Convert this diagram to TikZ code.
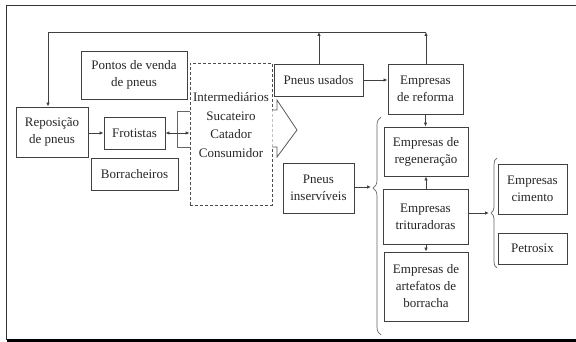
\documentclass[tikz,border=0pt]{standalone}
\usepackage{fontspec}
\setmainfont{Liberation Serif}
\usetikzlibrary{arrows.meta,decorations.pathreplacing}
\begin{document}
\begin{tikzpicture}[x=1pt,y=-1pt,
  box/.style={draw=black!75,line width=0.9pt,align=center,inner sep=0pt,
    font=\fontsize{13}{17}\selectfont,text=black!85},
  arr/.style={draw=black!75,line width=0.8pt,-{Latex[length=4pt,width=3.5pt]}},
  brc/.style={draw=black!60,line width=0.7pt,decorate}]
\useasboundingbox (0,0) rectangle (576,342);
\fill[white] (0,0) rectangle (576,342);
% frame
\draw[black!80,line width=1pt] (576,5.5) -- (6.5,5.5) -- (6.5,340);
\draw[black,line width=3pt] (6.5,340.5) -- (576,340.5);
% boxes
\node[box,minimum width=72pt,minimum height=50pt] (repo) at (52,132) {Reposição\\de pneus};
\node[box,minimum width=61pt,minimum height=32pt] (frot) at (134.5,133) {Frotistas};
\node[box,minimum width=106pt,minimum height=48pt] (pontos) at (134,75) {Pontos de venda\\de pneus};
\node[box,minimum width=87pt,minimum height=32pt] (borr) at (134.5,174) {Borracheiros};
\draw[black!60,line width=0.8pt] (190,111) -- (177,111) -- (177,147) -- (190,147);
\node[draw=black!70,densely dashed,line width=0.7pt,minimum width=82pt,minimum height=142pt,inner sep=0pt] (dash) at (231,134) {};
\node[align=center,font=\fontsize{13}{18.5}\selectfont,text=black!85] (inter) at (231,125) {Intermediários\\Sucateiro\\Catador\\Consumidor};
\draw[black!65,line width=0.8pt,fill=white] (dash.east |- 0,110) -- (277,110) -- (277,100) -- (297,130) -- (277,157) -- (277,147) -- (dash.east |- 0,147);
\node[box,minimum width=89pt,minimum height=32pt] (pusados) at (318.5,80) {Pneus usados};
\node[box,minimum width=75pt,minimum height=50pt] (reforma) at (425.5,89) {Empresas\\de reforma};
\node[box,minimum width=84pt,minimum height=49pt] (regen) at (426,151.5) {Empresas de\\regeneração};
\node[box,minimum width=85pt,minimum height=55pt] (trit) at (425.5,216.5) {Empresas\\trituradoras};
\node[box,minimum width=84pt,minimum height=69pt] (artef) at (426,286.5) {Empresas de\\artefatos de\\borracha};
\node[box,minimum width=71pt,minimum height=50pt] (inserv) at (318.5,188) {Pneus\\inservíveis};
\node[box,minimum width=69pt,minimum height=50pt] (cimento) at (532.5,189) {Empresas\\cimento};
\node[box,minimum width=69pt,minimum height=31pt] (petro) at (532.5,248.5) {Petrosix};
% coordinates
\coordinate (tl) at (48,32);
\coordinate (tr) at (426,32);
\coordinate (tu) at (319,32);
\coordinate (b1) at (371,187);
\coordinate (b2) at (489,213);
% feedback
\draw[arr] (reforma.north -| tr) -- (tr);
\draw[arr] (pusados.north -| tu) -- (tu);
\draw[arr] (tr) -- (tl) -- (repo.north -| tl);
% arrows
\draw[arr] (repo.east |- frot.west) -- (frot.west);
\draw[draw=black!75,line width=0.8pt,{Latex[length=4pt,width=3.5pt]}-{Latex[length=4pt,width=3.5pt]}] (frot.east) -- (dash.west |- frot.east);
\draw[arr] (pusados.east) -- (reforma.west |- pusados.east);
\draw[arr] (reforma.south) -- (reforma.south |- regen.north);
\draw[arr] (trit.north -| regen.north) -- (regen.north |- regen.south);
\draw[arr] (trit.south -| artef.north) -- (artef.north);
\draw[arr] (inserv.east |- b1) -- (b1);
\draw[arr] (trit.east |- b2) -- (b2);
% braces
\draw[brc,decoration={brace,amplitude=8pt,aspect=0.674}] (381,335) -- (381,117);
\draw[brc,decoration={brace,amplitude=6pt}] (497,268) -- (497,158);
\end{tikzpicture}
\end{document}
